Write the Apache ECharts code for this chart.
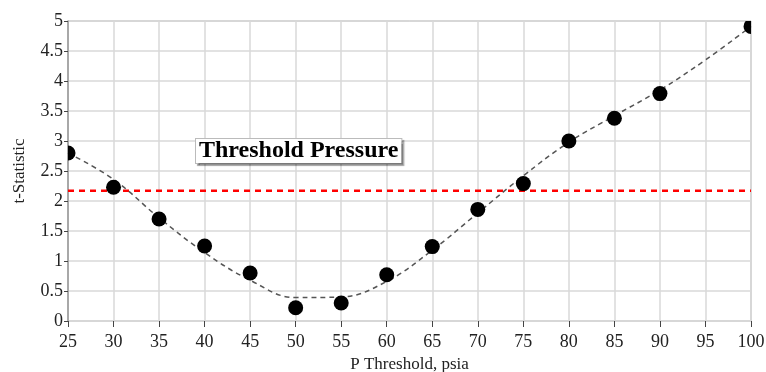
<!DOCTYPE html>
<html>
<head>
<meta charset="utf-8">
<script src="https://cdn.jsdelivr.net/npm/echarts@6/dist/echarts.min.js"></script>
<style>html,body{margin:0;padding:0;background:#fff}#c{width:766px;height:372px}</style>
</head>
<body>
<div id="c"></div>
<script>
const xTicks = [25,30,35,40,45,50,55,60,65,70,75,80,85,90,95,100];
const pointX = [25,30,35,40,45,50,55,60,65,70,75,80,85,90,100];
const pointY = [2.80,2.23,1.70,1.25,0.80,0.22,0.30,0.77,1.24,1.86,2.29,3.00,3.38,3.79,4.91];
const fitX = [25,30,35,40,45,50,55,60,65,70,75,80,85,90,95,100];
const fitY = [2.80,2.36,1.72,1.14,0.68,0.39,0.40,0.66,1.18,1.80,2.42,2.98,3.42,3.85,4.35,4.91];
const threshold = 2.17;
const labelText = 'Threshold Pressure';
const xName = 'P Threshold, psia';
const yName = 't-Statistic';

const font = 'Liberation Serif';
const chart = echarts.init(document.getElementById('c'));
chart.setOption({
  animation: false,
  textStyle: {fontFamily: font},
  grid: {left: 68, right: 15, top: 21, bottom: 51, outerBoundsMode: 'none', containLabel: false,
         show: true, borderColor: '#aaa', borderWidth: 1},
  xAxis: {
    type: 'value', min: 25, max: 100, interval: 5,
    name: xName, nameLocation: 'middle', nameGap: 33,
    nameTextStyle: {fontFamily: font, fontSize: 17, color: '#222'},
    axisLine: {show: false},
    axisTick: {show: true, length: 6, lineStyle: {color: '#444'}},
    axisLabel: {fontFamily: font, fontSize: 18, color: '#222', margin: 12},
    splitLine: {show: true, lineStyle: {color: '#d9d9d9', width: 1.5}}
  },
  yAxis: {
    type: 'value', min: 0, max: 5, interval: 0.5,
    name: yName, nameLocation: 'middle', nameGap: 40,
    nameTextStyle: {fontFamily: font, fontSize: 17, color: '#222'},
    axisLine: {show: true, lineStyle: {color: '#999', width: 1.5}},
    axisTick: {show: true, length: 4, lineStyle: {color: '#444'}},
    axisLabel: {fontFamily: font, fontSize: 18, color: '#222', margin: 5},
    splitLine: {show: true, lineStyle: {color: '#d9d9d9', width: 1.5}}
  },
  series: [
    {
      type: 'line', smooth: 0.4, symbol: 'none',
      data: fitX.map((x,i)=>[x, fitY[i]]),
      lineStyle: {color: '#555', width: 1.5, type: [5,4]},
      z: 3
    },
    {
      type: 'line', symbol: 'none',
      data: [[25, threshold],[100, threshold]],
      lineStyle: {color: '#ff0000', width: 2.5, type: [6,5]},
      z: 2
    },
    {
      type: 'custom', clip: true, z: 4,
      data: pointX.map((x,i)=>[x, pointY[i]]),
      renderItem: function (params, api) {
        const p = api.coord([api.value(0), api.value(1)]);
        return {type: 'circle', shape: {cx: p[0], cy: p[1], r: 7.5}, style: {fill: '#000'}};
      }
    }
  ],
  graphic: [{
    type: 'text', left: 195, top: 138, z: 10,
    style: {
      text: labelText, fontFamily: font, fontSize: 24, fontWeight: 'bold', fill: '#000',
      backgroundColor: '#fff', borderColor: '#bbb', borderWidth: 1,
      padding: [0, 3, 0, 3],
      shadowColor: 'rgba(0,0,0,0.35)', shadowOffsetX: 2, shadowOffsetY: 2, shadowBlur: 1
    }
  }]
});
</script>
</body>
</html>
